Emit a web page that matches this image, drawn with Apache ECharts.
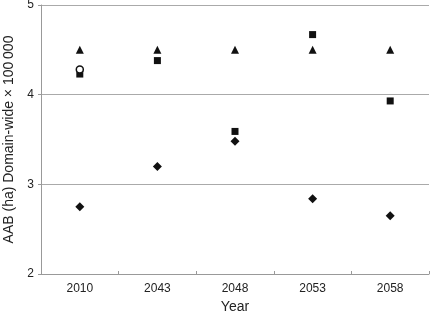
<!DOCTYPE html>
<html><head><meta charset="utf-8">
<script src="https://cdn.jsdelivr.net/npm/echarts@6/dist/echarts.min.js"></script>
<style>html,body{margin:0;padding:0;background:#fff}#c{width:431px;height:318px}</style>
</head><body><div id="c"></div>
<script>
var years = ['2010', '2043', '2048', '2053', '2058'];
var triangleVals = [4.5, 4.5, 4.5, 4.5, 4.5];
var squareVals = [4.23, 4.38, 3.59, 4.67, 3.93];
var diamondVals = [2.75, 3.2, 3.48, 2.84, 2.65];
var circleVals = [4.28, null, null, null, null];
var yTicks = [2, 3, 4, 5];

var chart = echarts.init(document.getElementById('c'));
var font = 'Liberation Sans, Arial, sans-serif';
function s(name, data, symbol, size, extra) {
  return Object.assign({
    name: name, type: 'scatter', data: data, symbol: symbol, symbolSize: size,
    itemStyle: { color: '#111', opacity: 1 }, silent: true
  }, extra || {});
}
chart.setOption({
  animation: false,
  grid: { left: 41, right: 2, top: 5, bottom: 44, containLabel: false, outerBoundsMode: 'none' },
  xAxis: {
    type: 'category', data: years, boundaryGap: true,
    name: 'Year', nameLocation: 'middle', nameGap: 23,
    nameTextStyle: { fontFamily: font, fontSize: 14, color: '#222' },
    axisLine: { lineStyle: { color: '#999' } },
    axisTick: { show: true, inside: true, length: 3, lineStyle: { color: '#999' } },
    axisLabel: { fontFamily: font, fontSize: 12, color: '#222', margin: 9 }
  },
  yAxis: {
    type: 'value', min: yTicks[0], max: yTicks[yTicks.length - 1], interval: 1,
    name: 'AAB (ha) Domain-wide \u00d7 100\u2009000', nameLocation: 'middle', nameGap: 22,
    nameTextStyle: { fontFamily: font, fontSize: 14, color: '#222' },
    axisLine: { show: true, lineStyle: { color: '#999' } },
    axisTick: { show: true, length: 3, lineStyle: { color: '#999' } },
    axisLabel: { fontFamily: font, fontSize: 12, color: '#222', margin: 7 },
    splitLine: { show: true, lineStyle: { color: '#aaa' } }
  },
  series: [
    s('triangle', triangleVals, 'triangle', 8),
    s('square', squareVals, 'rect', 7),
    s('diamond', diamondVals, 'diamond', 9),
    s('circle', circleVals, 'circle', 7, { itemStyle: { color: '#fff', borderColor: '#111', borderWidth: 1.5, opacity: 1 }, z: 3 })
  ]
});
</script></body></html>
